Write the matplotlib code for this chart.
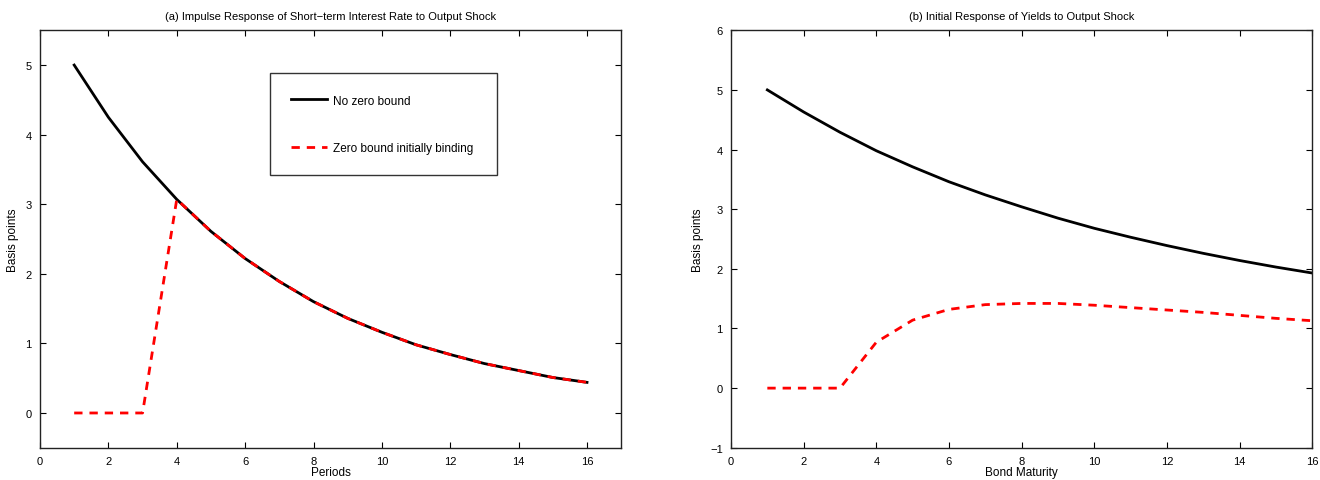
import matplotlib
matplotlib.use('Agg')
from matplotlib import pyplot as plt

plt.rcParams['font.family'] = ['Liberation Sans', 'DejaVu Sans']

# panel (a): short-term rate impulse response
periods = [1, 2, 3, 4, 5, 6, 7, 8, 9, 10, 11, 12, 13, 14, 15, 16]
rate_no_zlb = [5.00, 4.25, 3.61, 3.07, 2.61, 2.22, 1.89, 1.60,
               1.36, 1.16, 0.98, 0.84, 0.71, 0.61, 0.51, 0.44]
rate_zlb = [0.00, 0.00, 0.00, 3.07, 2.61, 2.22, 1.89, 1.60,
            1.36, 1.16, 0.98, 0.84, 0.71, 0.61, 0.51, 0.44]

# panel (b): initial yield response by maturity
maturity = [1, 2, 3, 4, 5, 6, 7, 8, 9, 10, 11, 12, 13, 14, 15, 16]
yield_no_zlb = [5.00, 4.63, 4.29, 3.98, 3.71, 3.46, 3.24, 3.04,
                2.85, 2.68, 2.53, 2.39, 2.26, 2.14, 2.03, 1.93]
yield_zlb = [0.00, 0.00, 0.00, 0.77, 1.14, 1.32, 1.40, 1.42,
             1.42, 1.39, 1.35, 1.31, 1.27, 1.22, 1.17, 1.13]

label_no_zlb = 'No zero bound'
label_zlb = 'Zero bound initially binding'

fig = plt.figure(figsize=(13.2, 4.81), dpi=100)
ax1 = fig.add_axes([0.0303, 0.067, 0.4403, 0.868])
ax2 = fig.add_axes([0.5538, 0.067, 0.4403, 0.868])


def style_axes(ax):
    ax.tick_params(direction='in', top=True, right=True, labelsize=8, length=4, width=0.8, pad=6)
    for sp in ax.spines.values():
        sp.set_linewidth(1.0)
        sp.set_color('#222222')


ax1.plot(periods, rate_no_zlb, color='black', lw=2, label=label_no_zlb)
ax1.plot(periods, rate_zlb, color='#ff0000', lw=2, ls=(0, (3, 2.5)), label=label_zlb)
ax1.set_xlim(0, 17)
ax1.set_ylim(-0.5, 5.5)
ax1.set_xticks(range(0, 17, 2))
ax1.set_yticks(range(0, 6))
ax1.set_title('(a) Impulse Response of Short\u2212term Interest Rate to Output Shock', fontsize=8, pad=8)
ax1.set_xlabel('Periods', fontsize=8.5, labelpad=0)
ax1.set_ylabel('Basis points', fontsize=8.5, labelpad=4.5)
style_axes(ax1)
leg = ax1.legend(loc='upper left', bbox_to_anchor=(0.396, 0.646, 0.39, 0.251),
                 mode='expand', fontsize=8.5, frameon=True, fancybox=False,
                 handlelength=3.0, handletextpad=0.55,
                 labelspacing=3.0, borderpad=1.8, borderaxespad=0)
leg.get_frame().set_edgecolor('black')
leg.get_frame().set_linewidth(1.0)

ax2.plot(maturity, yield_no_zlb, color='black', lw=2)
ax2.plot(maturity, yield_zlb, color='#ff0000', lw=2, ls=(0, (3, 2.5)))
ax2.set_xlim(0, 16)
ax2.set_ylim(-1, 6)
ax2.set_xticks(range(0, 17, 2))
ax2.set_yticks(range(-1, 7))
ax2.set_title('(b) Initial Response of Yields to Output Shock', fontsize=8, pad=8)
ax2.set_xlabel('Bond Maturity', fontsize=8.5, labelpad=0)
ax2.set_ylabel('Basis points', fontsize=8.5, labelpad=4.5)
style_axes(ax2)

fig.savefig('out.png', dpi=100)
